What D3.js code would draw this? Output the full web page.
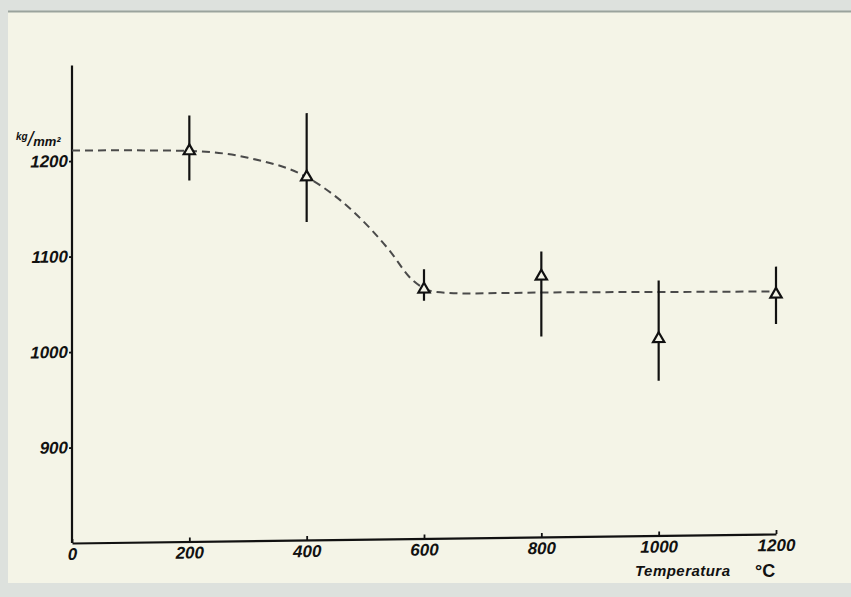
<!DOCTYPE html>
<html>
<head>
<meta charset="utf-8">
<script src="https://cdn.jsdelivr.net/npm/d3@7"></script>
<style>
  html, body { margin: 0; padding: 0; background: #dde1dd; }
  svg { display: block; }
  .lbl { font-family: "Liberation Sans", sans-serif; font-weight: bold; font-style: italic; fill: #111; }
</style>
</head>
<body>
<svg id="chart" width="851" height="597"></svg>
<script>
// measured points (temperature °C -> kg/mm²)
const temps = [200, 400, 600, 800, 1000, 1200];
const means = [1209, 1180, 1061, 1073, 1006, 1051];
const highs = [1246, 1247, 1082, 1099, 1067, 1080];
const lows  = [1178, 1133, 1049, 1010, 962, 1020];

// hand-drawn trend (dashed)
const trendT = [0, 200, 300, 400, 480, 540, 580, 620, 680, 800, 1000, 1200];
const trendV = [1211, 1209, 1201, 1180, 1143, 1103, 1071, 1058, 1056, 1056, 1055, 1054];

const xTicks = [0, 200, 400, 600, 800, 1000, 1200];
const yTicks = [900, 1000, 1100, 1200];

const svg = d3.select('#chart');

// photo paper
svg.append('rect').attr('x', 8).attr('y', 11).attr('width', 843).attr('height', 572)
    .attr('fill', '#f4f4e7');
svg.append('line').attr('x1', 8).attr('x2', 851).attr('y1', 11.5).attr('y2', 11.5)
    .attr('stroke', '#9aa39d').attr('stroke-width', 2);

const x = d3.scaleLinear().domain([0, 1200]).range([72, 776]);
const y = d3.scaleLinear().domain([800, 1300]).range([543, 65.5]);

// the photo is slightly tilted: skew around the origin
const g = svg.append('g')
    .attr('transform', `translate(72,543) skewY(-0.73) translate(-72,-543)`);

const xAxis = g.append('g')
    .attr('transform', `translate(0,${y(800)})`)
    .call(d3.axisBottom(x).tickValues(xTicks).tickSizeInner(-4).tickSizeOuter(0).tickPadding(5).tickFormat(d3.format('d')));

const yAxis = g.append('g')
    .attr('transform', `translate(${x(0)},0)`)
    .call(d3.axisLeft(y).tickValues(yTicks).tickSizeInner(3).tickSizeOuter(0).tickPadding(1).tickFormat(d3.format('d')));

[xAxis, yAxis].forEach(a => {
    a.select('.domain').attr('stroke', '#111').attr('stroke-width', 2.2);
    a.selectAll('.tick line').attr('stroke', '#111').attr('stroke-width', 1.8);
    a.selectAll('.tick text').attr('class', 'lbl').style('font-size', '17px');
});
yAxis.select('.domain').attr('d', `M0,${y(800)}V${y(1300)}`);

// trend line
const trend = trendT.map((t, i) => ({ t, v: trendV[i] }));
g.append('path')
    .datum(trend)
    .attr('d', d3.line().x(d => x(d.t)).y(d => y(d.v)).curve(d3.curveMonotoneX))
    .attr('fill', 'none')
    .attr('stroke', '#4a4a4a')
    .attr('stroke-width', 2)
    .attr('stroke-dasharray', '8,5');

// error bars
const pts = temps.map((t, i) => ({ t, m: means[i], hi: highs[i], lo: lows[i] }));
g.selectAll('.bar').data(pts).enter().append('line')
    .attr('x1', d => x(d.t)).attr('x2', d => x(d.t))
    .attr('y1', d => y(d.hi)).attr('y2', d => y(d.lo))
    .attr('stroke', '#111').attr('stroke-width', 2.2);

g.selectAll('.pt').data(pts).enter().append('path')
    .attr('d', d3.symbol(d3.symbolTriangle, 55))
    .attr('transform', d => `translate(${x(d.t)},${y(d.m)})`)
    .attr('fill', '#f4f4e7')
    .attr('stroke', '#111')
    .attr('stroke-width', 2.2);

// unit label
const unit = svg.append('text').attr('class', 'lbl').attr('x', 16).attr('y', 146);
unit.append('tspan').attr('dy', -6).style('font-size', '10px').text('kg');
unit.append('tspan').attr('dy', 6).style('font-size', '20px').style('font-weight', 'normal').text('/');
unit.append('tspan').attr('dy', 0).style('font-size', '13px').text('mm²');

// axis title
svg.append('text').attr('class', 'lbl')
    .attr('x', 635).attr('y', 576)
    .attr('textLength', 95)
    .style('font-size', '15px')
    .text('Temperatura');
svg.append('text').attr('class', 'lbl')
    .attr('x', 755).attr('y', 577)
    .style('font-size', '18px').style('font-style', 'normal')
    .text('°C');
</script>
</body>
</html>
